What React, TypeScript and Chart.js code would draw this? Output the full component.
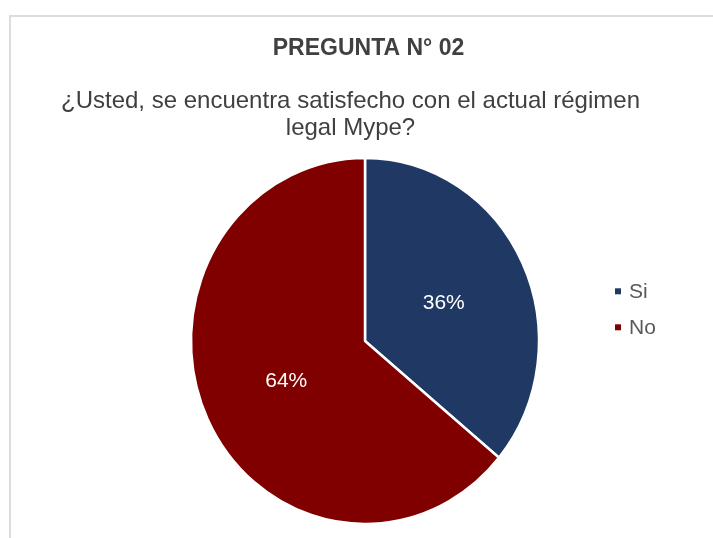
import React, { useEffect, useRef } from "react";
import { Chart, registerables } from "chart.js";

Chart.register(...registerables);

const titleText = "PREGUNTA N° 02";
const subtitleLines = ["¿Usted, se encuentra satisfecho con el actual régimen", "legal Mype?"];
const categories = ["Si", "No"];
const values = [36, 64];
const colors = ["#1F3864", "#800000"];

const SCALE_Y = 1.052;
const FONT = "'Liberation Sans', Arial, sans-serif";

const ellipsePlugin = {
  id: "ellipse",
  beforeDatasetsDraw(chart: any) {
    const meta = chart.getDatasetMeta(0);
    const arc = meta.data[0];
    if (!arc) return;
    const ctx = chart.ctx;
    ctx.save();
    ctx.translate(arc.x, arc.y);
    ctx.scale(1, SCALE_Y);
    ctx.translate(-arc.x, -arc.y);
  },
  afterDatasetsDraw(chart: any) {
    chart.ctx.restore();
  },
};

const textPlugin = {
  id: "texts",
  afterDraw(chart: any) {
    const ctx = chart.ctx;
    const meta = chart.getDatasetMeta(0);
    ctx.save();
    // title
    ctx.fillStyle = "#404040";
    ctx.textAlign = "center";
    ctx.textBaseline = "alphabetic";
    ctx.font = `bold 23px ${FONT}`;
    ctx.fillText(titleText, 357.5, 37.5);
    ctx.font = `24px ${FONT}`;
    ctx.fillText(subtitleLines[0], 339.5, 91);
    ctx.fillText(subtitleLines[1], 339.5, 118);
    // data labels
    ctx.fillStyle = "#FFFFFF";
    ctx.font = `21px ${FONT}`;
    ctx.textBaseline = "middle";
    const total = values.reduce((a, b) => a + b, 0);
    meta.data.forEach((arc: any, i: number) => {
      const p = arc.tooltipPosition();
      const y = arc.y + (p.y - arc.y) * SCALE_Y;
      ctx.fillText(Math.round((values[i] / total) * 100) + "%", p.x, y + 1);
    });
    // legend
    ctx.textAlign = "left";
    ctx.textBaseline = "alphabetic";
    ctx.font = `21px ${FONT}`;
    categories.forEach((c, i) => {
      const y0 = 281.3 + i * 36;
      ctx.fillStyle = colors[i];
      ctx.fillRect(604, y0 - 10, 6, 6);
      ctx.fillStyle = "#595959";
      ctx.fillText(c, 618, y0);
    });
    ctx.restore();
  },
};

export default function App() {
  const ref = useRef<HTMLCanvasElement>(null);
  useEffect(() => {
    if (!ref.current) return;
    const chart = new Chart(ref.current, {
      type: "pie",
      data: {
        labels: categories,
        datasets: [
          {
            data: values,
            backgroundColor: colors,
            borderColor: "#FFFFFF",
            borderWidth: 2.5,
            radius: 174,
          } as any,
        ],
      },
      options: {
        animation: false,
        responsive: true,
        maintainAspectRatio: false,
        layout: { padding: { left: 181, right: 175, top: 151, bottom: 24 } },
        plugins: {
          legend: { display: false },
          title: { display: false },
          tooltip: { enabled: false },
        },
      },
      plugins: [ellipsePlugin, textPlugin],
    });
    return () => chart.destroy();
  }, []);
  return (
    <div
      style={{
        position: "absolute",
        left: 9,
        top: 15,
        width: 702,
        height: 521,
        borderLeft: "2px solid #dcdcdc",
        borderTop: "2px solid #dcdcdc",
        background: "#fff",
      }}
    >
      <canvas ref={ref} />
    </div>
  );
}
